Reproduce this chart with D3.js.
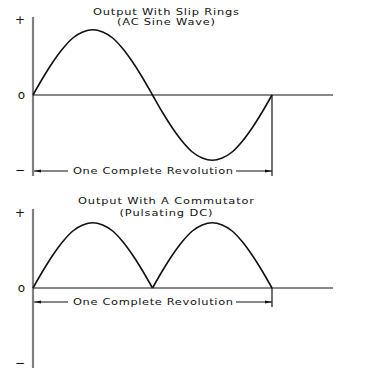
<!DOCTYPE html>
<html>
<head>
<meta charset="utf-8">
<script src="https://cdn.jsdelivr.net/npm/d3@7"></script>
<style>
html,body{margin:0;padding:0;background:#fff;}
svg{display:block;}
text{font-family:"DejaVu Sans",sans-serif;fill:#111;}
</style>
</head>
<body>
<svg id="chart" width="384" height="375"></svg>
<script>
// Rotation angle (degrees) sampled along one revolution
const angles = [0,15,30,45,60,75,90,105,120,135,150,165,180,195,210,225,240,255,270,285,300,315,330,345,360];
// Slip ring output (AC sine wave) (units of the +/− marks)
const acValues = [0,0.23,0.44,0.62,0.76,0.84,0.87,0.84,0.76,0.62,0.44,0.23,0,-0.23,-0.44,-0.62,-0.76,-0.84,-0.87,-0.84,-0.76,-0.62,-0.44,-0.23,0];
// Commutator output (pulsating DC)
const dcValues = [0,0.23,0.44,0.62,0.76,0.84,0.87,0.84,0.76,0.62,0.44,0.23,0,0.23,0.44,0.62,0.76,0.84,0.87,0.84,0.76,0.62,0.44,0.23,0];
// Tick labels on the voltage axis
const tickValues = [1,0,-1];
const tickLabels = ["+","o","\u2212"];
const titles = [["Output With Slip Rings","(AC Sine Wave)"],["Output With A Commutator","(Pulsating DC)"]];
const dimLabel = "One Complete Revolution";

const svg = d3.select("#chart");
const SX = 1.2; // horizontal stretch to imitate the wide drafting font

function wideText(g, cx, yy, w, t) {
  g.append("text")
    .attr("transform", `scale(${SX},1)`)
    .attr("x", cx / SX).attr("y", yy)
    .attr("text-anchor", "middle")
    .attr("font-size", 9.5)
    .attr("textLength", w / SX)
    .attr("lengthAdjust", "spacing")
    .text(t);
}

const panels = [
  {values: acValues, top: 20, bottom: 170, axisTop: 17, axisBottom: 176, dimY: 171, titleY: [15, 25], titleW:[146, 98], vEnd: 176},
  {values: dcValues, top: 213, bottom: 363, axisTop: 209, axisBottom: 368, dimY: 302, titleY: [204, 216], titleW:[176, 93], vEnd: 307}
];

panels.forEach((p, i) => {
  const g = svg.append("g");
  const x = d3.scaleLinear().domain([0, 360]).range([33, 272]);
  const y = d3.scaleLinear().domain([-1, 1]).range([p.bottom, p.top]);
  const xEnd = 333;

  // titles
  titles[i].forEach((t, k) => wideText(g, 166, p.titleY[k], p.titleW[k], t));

  // y axis with symbolic tick labels
  const axis = d3.axisLeft(y).tickValues(tickValues)
    .tickFormat((d, j) => tickLabels[j]).tickSize(0).tickPadding(8);
  const ag = g.append("g").attr("transform", "translate(33,0)").call(axis);
  ag.select(".domain").remove();
  ag.selectAll("text").attr("font-size", 12).attr("font-family", "DejaVu Sans").attr("fill", "#111").attr("dy", "0.32em");
  g.append("line")
    .attr("x1", 33).attr("x2", 33).attr("y1", p.axisTop).attr("y2", p.axisBottom)
    .attr("stroke", "#808080").attr("stroke-width", 2.2);

  // zero line
  g.append("line")
    .attr("x1", 33).attr("x2", xEnd).attr("y1", y(0)).attr("y2", y(0))
    .attr("stroke", "#111").attr("stroke-width", 1);

  // end of revolution vertical line
  g.append("line")
    .attr("x1", x(360)).attr("x2", x(360)).attr("y1", y(0)).attr("y2", p.vEnd)
    .attr("stroke", "#111").attr("stroke-width", 1.2);

  // curve
  const mk = (a) => d3.line()
    .x((d, j) => x(angles[a + j]))
    .y(d => y(d))
    .curve(d3.curveCatmullRom.alpha(0.5));
  const segs = i === 0 ? [[0, 25]] : [[0, 13], [12, 25]];
  segs.forEach(([a, b]) => {
    g.append("path").datum(p.values.slice(a, b)).attr("d", mk(a))
      .attr("fill", "none").attr("stroke", "#111").attr("stroke-width", 1.6);
  });

  // dimension line
  const dy = p.dimY;
  const x0 = x(0) + 1, x1 = x(360);
  g.append("line").attr("x1", x0).attr("x2", 68).attr("y1", dy).attr("y2", dy).attr("stroke", "#111").attr("stroke-width", 1);
  g.append("line").attr("x1", 236).attr("x2", x1).attr("y1", dy).attr("y2", dy).attr("stroke", "#111").attr("stroke-width", 1);
  g.append("path").attr("d", `M${x0},${dy}L${x0+7},${dy-1.5}L${x0+7},${dy+1.5}Z`).attr("fill", "#111");
  g.append("path").attr("d", `M${x1},${dy}L${x1-7},${dy-1.5}L${x1-7},${dy+1.5}Z`).attr("fill", "#111");
  wideText(g, 153, dy + 3.5, 160, dimLabel);
});
</script>
</body>
</html>
